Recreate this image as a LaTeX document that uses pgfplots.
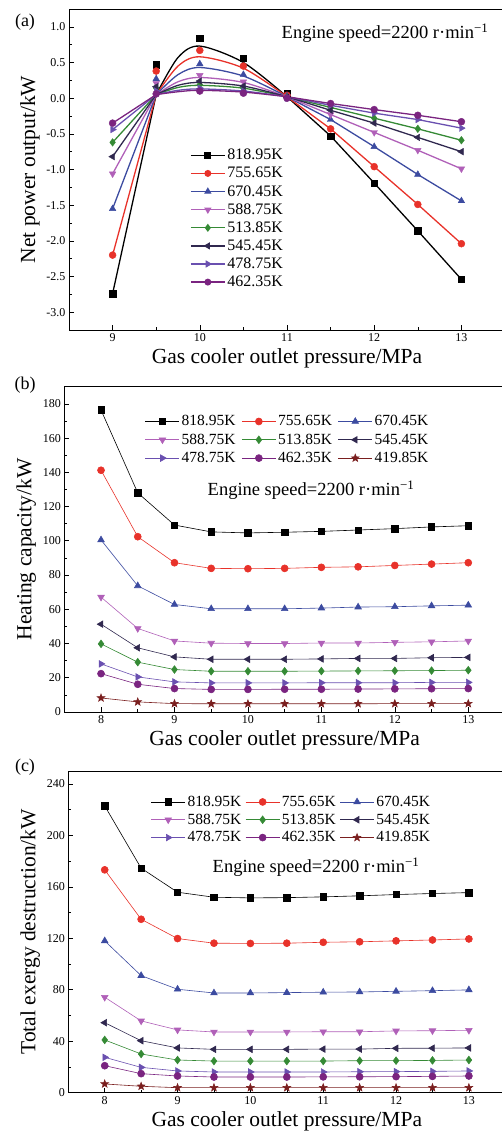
\documentclass[border=0pt]{standalone}
\usepackage{fontspec}
\setmainfont{Liberation Serif}
\usepackage{pgfplots}
\pgfplotsset{compat=1.18}
\definecolor{cA}{HTML}{000000}
\definecolor{cB}{HTML}{E8322A}
\definecolor{cC}{HTML}{3C4BA0}
\definecolor{cD}{HTML}{B060B8}
\definecolor{cE}{HTML}{358A35}
\definecolor{cF}{HTML}{30284F}
\definecolor{cG}{HTML}{6A50B0}
\definecolor{cH}{HTML}{7A2480}
\definecolor{cI}{HTML}{7A1F1F}
\pgfdeclareplotmark{fstar}{%
  \pgfpathmoveto{\pgfpointpolar{90}{1.2\pgfplotmarksize}}%
  \pgfpathlineto{\pgfpointpolar{126}{0.5\pgfplotmarksize}}%
  \pgfpathlineto{\pgfpointpolar{162}{1.2\pgfplotmarksize}}%
  \pgfpathlineto{\pgfpointpolar{198}{0.5\pgfplotmarksize}}%
  \pgfpathlineto{\pgfpointpolar{234}{1.2\pgfplotmarksize}}%
  \pgfpathlineto{\pgfpointpolar{270}{0.5\pgfplotmarksize}}%
  \pgfpathlineto{\pgfpointpolar{306}{1.2\pgfplotmarksize}}%
  \pgfpathlineto{\pgfpointpolar{342}{0.5\pgfplotmarksize}}%
  \pgfpathlineto{\pgfpointpolar{18}{1.2\pgfplotmarksize}}%
  \pgfpathlineto{\pgfpointpolar{54}{0.5\pgfplotmarksize}}%
  \pgfpathclose\pgfusepathqfillstroke}
\pgfplotsset{
  panel/.style={
    scale only axis, tick pos=left,
    axis line style={line width=0.8pt},
    every tick/.style={black, line width=0.6pt},
    major tick length=5pt, minor tick length=3pt,
    tick label style={font=\fontsize{12}{14}\selectfont},
    label style={font=\fontsize{21.5}{25}\selectfont},
    /pgf/number format/assume math mode=true,
    minor x tick num=1, minor y tick num=1,
    legend cell align=left,
    legend image code/.code={\draw[mark repeat=2,mark phase=2,##1] plot coordinates {(0pt,0pt) (17pt,0pt) (34pt,0pt)};},
  },
  lg/.style={legend style={draw=none, fill=none, inner xsep=0pt, inner ysep=0pt, anchor=north west,
     nodes={inner sep=2pt, text depth=0.15em}}},
  sA/.style={cA, mark=square*},
  sB/.style={cB, mark=*},
  sC/.style={cC, mark=triangle*},
  sD/.style={cD, mark=triangle*, mark options={rotate=180}},
  sE/.style={cE, mark=diamond*},
  sF/.style={cF, mark=triangle*, mark options={rotate=90}},
  sG/.style={cG, mark=triangle*, mark options={rotate=-90}},
  sH/.style={cH, mark=*},
  sI/.style={cI, mark=fstar},
}
\begin{document}
\begin{tikzpicture}
\path[use as bounding box] (0pt,0pt) rectangle (502pt,-1142pt);
% ---------------- (a)
\begin{axis}[panel, lg, at={(69pt,-330pt)}, anchor=south west,
  width=436pt, height=321pt,
  xmin=8.5, xmax=13.5, ymin=-3.25, ymax=1.25,
  xtick={9,10,11,12,13}, ytick={-3,-2.5,...,1},
  yticklabel style={/pgf/number format/.cd, fixed, fixed zerofill, precision=1},
  xlabel={Gas cooler outlet pressure/MPa}, ylabel={Net power output/kW},
  legend style={at={(0.2775,0.57)}, font=\fontsize{16}{18}\selectfont, row sep=2pt},
  mark size=3.2pt]
\addlegendimage{sA, line width=1.3pt, mark size=2.8pt}\addlegendentry{818.95K}
\addlegendimage{sB, line width=1.3pt, mark size=2.8pt}\addlegendentry{755.65K}
\addlegendimage{sC, line width=1.3pt, mark size=3pt}\addlegendentry{670.45K}
\addlegendimage{sD, line width=1.3pt, mark size=3pt}\addlegendentry{588.75K}
\addlegendimage{sE, line width=1.3pt, mark size=3pt}\addlegendentry{513.85K}
\addlegendimage{sF, line width=1.3pt, mark size=3pt}\addlegendentry{545.45K}
\addlegendimage{sG, line width=1.3pt, mark size=3pt}\addlegendentry{478.75K}
\addlegendimage{sH, line width=1.3pt, mark size=2.8pt}\addlegendentry{462.35K}
% lines
\addplot[cA, line width=1.3pt, forget plot] coordinates {(9,-2.74)(9.5,0.05)};
\addplot[cA, line width=1.3pt, smooth, forget plot] coordinates {(9.5,0.05)(9.75,0.57)(10,0.73)(10.5,0.50)(11,0.02)};
\addplot[cA, line width=1.3pt, forget plot] coordinates {(11,0.02)(11.5,-0.53)(12,-1.19)(12.5,-1.86)(13,-2.54)};
\addplot[cB, line width=1.3pt, forget plot] coordinates {(9,-2.20)(9.5,0.05)};
\addplot[cB, line width=1.3pt, smooth, forget plot] coordinates {(9.5,0.05)(9.75,0.45)(10,0.58)(10.5,0.42)(11,0.02)};
\addplot[cB, line width=1.3pt, forget plot] coordinates {(11,0.02)(11.5,-0.43)(12,-0.96)(12.5,-1.49)(13,-2.04)};
\addplot[cC, line width=1.3pt, forget plot] coordinates {(9,-1.55)(9.5,0.05)};
\addplot[cC, line width=1.3pt, smooth, forget plot] coordinates {(9.5,0.05)(9.75,0.33)(10,0.43)(10.5,0.31)(11,0.02)};
\addplot[cC, line width=1.3pt, forget plot] coordinates {(11,0.02)(11.5,-0.30)(12,-0.68)(12.5,-1.07)(13,-1.44)};
\addplot[cD, line width=1.3pt, forget plot] coordinates {(9,-1.06)(9.5,0.05)};
\addplot[cD, line width=1.3pt, smooth, forget plot] coordinates {(9.5,0.05)(9.75,0.23)(10,0.29)(10.5,0.22)(11,0.02)};
\addplot[cD, line width=1.3pt, forget plot] coordinates {(11,0.02)(11.5,-0.23)(12,-0.48)(12.5,-0.73)(13,-0.99)};
\addplot[cE, line width=1.3pt, forget plot] coordinates {(9,-0.62)(9.5,0.05)};
\addplot[cE, line width=1.3pt, smooth, forget plot] coordinates {(9.5,0.05)(9.75,0.15)(10,0.18)(10.5,0.14)(11,0.02)};
\addplot[cE, line width=1.3pt, forget plot] coordinates {(11,0.02)(11.5,-0.13)(12,-0.28)(12.5,-0.43)(13,-0.59)};
\addplot[cF, line width=1.3pt, forget plot] coordinates {(9,-0.82)(9.5,0.05)};
\addplot[cF, line width=1.3pt, smooth, forget plot] coordinates {(9.5,0.05)(9.75,0.18)(10,0.22)(10.5,0.17)(11,0.02)};
\addplot[cF, line width=1.3pt, forget plot] coordinates {(11,0.02)(11.5,-0.17)(12,-0.35)(12.5,-0.55)(13,-0.75)};
\addplot[cG, line width=1.3pt, forget plot] coordinates {(9,-0.44)(9.5,0.05)};
\addplot[cG, line width=1.3pt, smooth, forget plot] coordinates {(9.5,0.05)(9.75,0.11)(10,0.13)(10.5,0.10)(11,0.02)};
\addplot[cG, line width=1.3pt, forget plot] coordinates {(11,0.02)(11.5,-0.10)(12,-0.21)(12.5,-0.30)(13,-0.42)};
\addplot[cH, line width=1.3pt, forget plot] coordinates {(9,-0.35)(9.5,0.05)};
\addplot[cH, line width=1.3pt, smooth, forget plot] coordinates {(9.5,0.05)(9.75,0.09)(10,0.11)(10.5,0.085)(11,0.02)};
\addplot[cH, line width=1.3pt, forget plot] coordinates {(11,0.02)(11.5,-0.075)(12,-0.16)(12.5,-0.24)(13,-0.33)};
% markers
\addplot[sA, only marks, forget plot] coordinates {(9,-2.74)(9.5,0.47)(10,0.84)(10.5,0.56)(11,0.06)(11.5,-0.53)(12,-1.19)(12.5,-1.86)(13,-2.54)};
\addplot[sB, only marks, forget plot, mark size=3.5pt] coordinates {(9,-2.20)(9.5,0.38)(10,0.67)(10.5,0.45)(11,0.04)(11.5,-0.43)(12,-0.96)(12.5,-1.49)(13,-2.04)};
\addplot[sC, only marks, forget plot, mark size=3.8pt] coordinates {(9,-1.55)(9.5,0.27)(10,0.48)(10.5,0.33)(11,0.03)(11.5,-0.30)(12,-0.68)(12.5,-1.07)(13,-1.44)};
\addplot[sD, only marks, forget plot, mark size=3.8pt] coordinates {(9,-1.06)(9.5,0.21)(10,0.32)(10.5,0.23)(11,0.02)(11.5,-0.23)(12,-0.48)(12.5,-0.73)(13,-0.99)};
\addplot[sE, only marks, forget plot, mark size=3.8pt] coordinates {(9,-0.62)(9.5,0.14)(10,0.19)(10.5,0.14)(11,0.01)(11.5,-0.13)(12,-0.28)(12.5,-0.43)(13,-0.59)};
\addplot[sF, only marks, forget plot, mark size=3.8pt] coordinates {(9,-0.82)(9.5,0.16)(10,0.24)(10.5,0.17)(11,0.01)(11.5,-0.17)(12,-0.35)(12.5,-0.55)(13,-0.75)};
\addplot[sG, only marks, forget plot, mark size=3.8pt] coordinates {(9,-0.44)(9.5,0.10)(10,0.14)(10.5,0.10)(11,0.00)(11.5,-0.10)(12,-0.21)(12.5,-0.30)(13,-0.42)};
\addplot[sH, only marks, forget plot, mark size=3.5pt] coordinates {(9,-0.35)(9.5,0.06)(10,0.10)(10.5,0.07)(11,0.00)(11.5,-0.075)(12,-0.16)(12.5,-0.24)(13,-0.33)};
\end{axis}
% ---------------- (b)
\begin{axis}[panel, lg, at={(64.3pt,-712pt)}, anchor=south west,
  width=440.7pt, height=325.3pt,
  xmin=7.5, xmax=13.5, ymin=0, ymax=190,
  xtick={8,9,10,11,12,13}, ytick={0,20,...,180},
  xlabel={Gas cooler outlet pressure/MPa}, ylabel={Heating capacity/kW},
  legend columns=3,
  legend style={at={(0.183,0.918)}, font=\fontsize{15.5}{17}\selectfont, row sep=2.5pt,
    /tikz/every even column/.append style={column sep=4pt}},
  every axis plot/.append style={line width=0.6pt, mark size=3.2pt, mark options={solid}}]
\addplot[sA] coordinates {(8,176.4)(8.5,128.0)(9,109.2)(9.5,105.2)(10,104.6)(10.5,105.0)(11,105.5)(11.5,106.3)(12,107.1)(12.5,108.1)(13,108.8)};
\addlegendentry{818.95K}
\addplot[sB, mark size=3.5pt] coordinates {(8,141.2)(8.5,102.4)(9,87.2)(9.5,83.9)(10,83.7)(10.5,83.9)(11,84.5)(11.5,84.8)(12,85.6)(12.5,86.4)(13,87.2)};
\addlegendentry{755.65K}
\addplot[sC, mark size=3.8pt] coordinates {(8,100.5)(8.5,73.7)(9,62.8)(9.5,60.3)(10,60.3)(10.5,60.3)(11,60.7)(11.5,61.3)(12,61.5)(12.5,62.0)(13,62.4)};
\addlegendentry{670.45K}
\addplot[sD, mark size=3.8pt] coordinates {(8,67.1)(8.5,48.8)(9,41.5)(9.5,40.2)(10,40.0)(10.5,40.0)(11,40.3)(11.5,40.3)(12,40.7)(12.5,41.0)(13,41.5)};
\addlegendentry{588.75K}
\addplot[sE, mark size=3.8pt] coordinates {(8,39.8)(8.5,29.1)(9,24.8)(9.5,23.8)(10,23.8)(10.5,23.8)(11,23.9)(11.5,24.0)(12,24.1)(12.5,24.2)(13,24.4)};
\addlegendentry{513.85K}
\addplot[sF, mark size=3.8pt] coordinates {(8,51.3)(8.5,37.5)(9,32.2)(9.5,30.8)(10,30.8)(10.5,30.8)(11,31.0)(11.5,31.3)(12,31.3)(12.5,31.7)(13,31.9)};
\addlegendentry{545.45K}
\addplot[sG, mark size=3.8pt] coordinates {(8,28.1)(8.5,20.5)(9,17.6)(9.5,17.0)(10,17.0)(10.5,17.0)(11,17.1)(11.5,17.1)(12,17.1)(12.5,17.3)(13,17.3)};
\addlegendentry{478.75K}
\addplot[sH, mark size=3.5pt] coordinates {(8,22.4)(8.5,16.2)(9,13.7)(9.5,13.2)(10,13.2)(10.5,13.3)(11,13.3)(11.5,13.4)(12,13.5)(12.5,13.6)(13,13.7)};
\addlegendentry{462.35K}
\addplot[sI, mark size=3.3pt] coordinates {(8,8.2)(8.5,5.9)(9,4.9)(9.5,4.8)(10,4.8)(10.5,4.8)(11,4.8)(11.5,4.8)(12,4.9)(12.5,4.9)(13,4.9)};
\addlegendentry{419.85K}
\end{axis}
% ---------------- (c)
\begin{axis}[panel, lg, at={(68.3pt,-1092.7pt)}, anchor=south west,
  width=437pt, height=321.7pt,
  xmin=7.5, xmax=13.5, ymin=0, ymax=250,
  xtick={8,9,10,11,12,13}, ytick={0,40,...,240},
  xlabel={Gas cooler outlet pressure/MPa}, ylabel={Total exergy destruction/kW},
  legend columns=3,
  legend style={at={(0.1886,0.929)}, font=\fontsize{15.5}{17}\selectfont, row sep=2pt,
    /tikz/every even column/.append style={column sep=2pt}},
  every axis plot/.append style={line width=0.6pt, mark size=3.2pt, mark options={solid}}]
\addplot[sA] coordinates {(8,222.9)(8.5,174.5)(9,155.8)(9.5,151.9)(10,151.4)(10.5,151.6)(11,152.2)(11.5,153.0)(12,154.0)(12.5,154.8)(13,155.5)};
\addlegendentry{818.95K}
\addplot[sB, mark size=3.5pt] coordinates {(8,173.2)(8.5,134.8)(9,119.8)(9.5,116.2)(10,116.0)(10.5,116.2)(11,116.9)(11.5,117.3)(12,118.0)(12.5,118.7)(13,119.5)};
\addlegendentry{755.65K}
\addplot[sC, mark size=3.8pt] coordinates {(8,118.0)(8.5,91.0)(9,80.4)(9.5,77.5)(10,77.5)(10.5,77.8)(11,78.1)(11.5,78.3)(12,78.8)(12.5,79.3)(13,79.9)};
\addlegendentry{670.45K}
\addplot[sD, mark size=3.8pt] coordinates {(8,74.2)(8.5,55.8)(9,48.8)(9.5,47.2)(10,47.2)(10.5,47.2)(11,47.4)(11.5,47.4)(12,48.0)(12.5,48.2)(13,48.5)};
\addlegendentry{588.75K}
\addplot[sE, mark size=3.8pt] coordinates {(8,41.0)(8.5,30.1)(9,25.4)(9.5,24.6)(10,24.6)(10.5,24.6)(11,24.6)(11.5,24.9)(12,24.9)(12.5,25.1)(13,25.4)};
\addlegendentry{513.85K}
\addplot[sF, mark size=3.8pt] coordinates {(8,54.4)(8.5,40.4)(9,34.8)(9.5,33.7)(10,33.7)(10.5,33.7)(11,33.9)(11.5,33.9)(12,34.5)(12.5,34.6)(13,34.8)};
\addlegendentry{545.45K}
\addplot[sG, mark size=3.8pt] coordinates {(8,27.5)(8.5,19.7)(9,16.9)(9.5,16.1)(10,16.1)(10.5,16.1)(11,16.1)(11.5,16.3)(12,16.4)(12.5,16.6)(13,16.9)};
\addlegendentry{478.75K}
\addplot[sH, mark size=3.5pt] coordinates {(8,21.0)(8.5,14.8)(9,13.0)(9.5,12.2)(10,12.2)(10.5,12.2)(11,12.3)(11.5,12.4)(12,12.5)(12.5,12.7)(13,13.0)};
\addlegendentry{462.35K}
\addplot[sI, mark size=3.3pt] coordinates {(8,6.8)(8.5,5.0)(9,3.9)(9.5,3.9)(10,3.9)(10.5,3.9)(11,3.9)(11.5,3.9)(12,3.9)(12.5,3.9)(13,3.9)};
\addlegendentry{419.85K}
\end{axis}
% panel letters and annotations
\node[font=\fontsize{18}{20}\selectfont] at (25pt,-22pt) {(a)};
\node[font=\fontsize{18}{20}\selectfont] at (25pt,-385pt) {(b)};
\node[font=\fontsize{18}{20}\selectfont] at (25pt,-767pt) {(c)};
\node[font=\fontsize{18.5}{20}\selectfont] at (385pt,-33pt) {Engine speed=2200 r·min\textsuperscript{−1}};
\node[font=\fontsize{18.5}{20}\selectfont] at (311pt,-490pt) {Engine speed=2200 r·min\textsuperscript{−1}};
\node[font=\fontsize{18.5}{20}\selectfont] at (316pt,-867pt) {Engine speed=2200 r·min\textsuperscript{−1}};
\end{tikzpicture}
\end{document}
